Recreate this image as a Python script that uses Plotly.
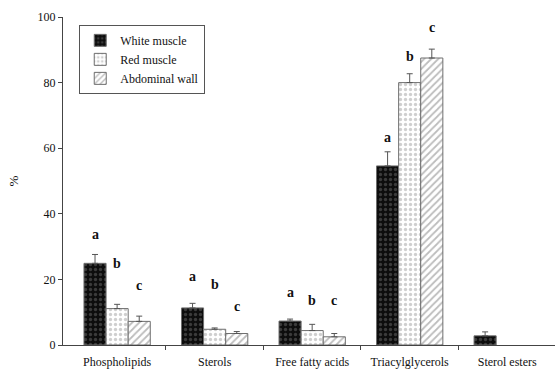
import plotly.graph_objects as go

# Lipid classes (x categories)
categories = ["Phospholipids", "Sterols", "Free fatty acids", "Triacylglycerols", "Sterol esters"]

# Mean percentage of total lipids per tissue
white_muscle = [24.9, 11.3, 7.3, 54.6, 2.8]
red_muscle = [11.1, 4.8, 4.4, 80.0, 0.0]
abdominal_wall = [7.2, 3.5, 2.5, 87.5, 0.0]

# Standard deviations (upper error bars only)
white_err = [2.7, 1.4, 0.6, 4.3, 1.2]
red_err = [1.3, 0.4, 1.9, 2.7, 0.0]
abdominal_err = [1.6, 0.6, 1.0, 2.7, 0.0]

# Significance letters and the heights at which they are printed
white_letters = ["a", "a", "a", "a", ""]
red_letters = ["b", "b", "b", "b", ""]
abdominal_letters = ["c", "c", "c", "c", ""]
white_letter_y = [33.8, 20.8, 16.0, 63.2, None]
red_letter_y = [25.0, 18.4, 13.7, 87.9, None]
abdominal_letter_y = [18.2, 11.6, 13.7, 96.9, None]

y_ticks = [0, 20, 40, 60, 80, 100]

FONT = "Liberation Serif, Times New Roman, serif"
x_pos = list(range(len(categories)))

series = [
    ("White muscle", white_muscle, white_err, "#0d0d0d", ".", "#6a6a6a", 5),
    ("Red muscle", red_muscle, red_err, "#ffffff", ".", "#a0a0a0", 5),
    ("Abdominal wall", abdominal_wall, abdominal_err, "#ffffff", "/", "#7a7a7a", 5),
]

fig = go.Figure()
for name, vals, errs, fill, shape, fg, size in series:
    # zero-height entries are left empty so no bar or error cap is drawn
    shown = [v if v > 0 else None for v in vals]
    err_plus = [e if v > 0 else 0 for v, e in zip(vals, errs)]
    fig.add_trace(go.Bar(
        name=name,
        x=x_pos,
        y=shown,
        marker=dict(
            color=fill,
            line=dict(color="#6e6e6e", width=1),
            pattern=dict(shape=shape, fgcolor=fg, bgcolor=fill, size=size, solidity=0.35),
        ),
        error_y=dict(
            type="data", symmetric=False, array=err_plus, arrayminus=[0] * len(vals),
            color="#555555", thickness=1, width=3,
        ),
    ))

# Letters above the bars
bar_offsets = [-0.225, 0.0, 0.225]
for off, letters, ys in zip(bar_offsets,
                            [white_letters, red_letters, abdominal_letters],
                            [white_letter_y, red_letter_y, abdominal_letter_y]):
    for i, (lab, yv) in enumerate(zip(letters, ys)):
        if lab and yv is not None:
            fig.add_annotation(x=i + off, y=yv, text="<b>%s</b>" % lab, showarrow=False,
                               font=dict(family=FONT, size=14, color="#111111"),
                               xanchor="center", yanchor="middle")

fig.update_layout(
    width=555, height=374,
    margin=dict(l=63, r=0, t=17, b=29),
    paper_bgcolor="#ffffff", plot_bgcolor="#ffffff",
    barmode="group", bargap=0.32, bargroupgap=0,
    font=dict(family=FONT, size=12, color="#111111"),
    showlegend=True,
    legend=dict(
        x=0.033, y=0.976, xanchor="left", yanchor="top",
        bgcolor="#ffffff", bordercolor="#555555", borderwidth=1,
        font=dict(family=FONT, size=12, color="#111111"),
        itemwidth=30, tracegroupgap=0,
    ),
)

fig.update_xaxes(
    range=[-0.555, 4.49],
    tickvals=x_pos, ticktext=categories, ticks="",
    minor=dict(tickvals=[0.5, 1.5, 2.5, 3.5], ticks="outside", ticklen=4,
               tickcolor="#444444", showgrid=False),
    showline=True, linecolor="#444444", linewidth=1,
    showgrid=False, zeroline=False,
    tickfont=dict(family=FONT, size=12, color="#111111"),
    ticklabelstandoff=6,
)
fig.update_yaxes(
    range=[0, 100], tickvals=y_ticks,
    ticks="outside", ticklen=4, tickcolor="#444444",
    showline=True, linecolor="#444444", linewidth=1,
    showgrid=False, zeroline=False,
    tickfont=dict(family=FONT, size=12, color="#111111"),
    title=dict(text="%", font=dict(family=FONT, size=13, color="#111111"), standoff=16),
)

fig.write_html("out.html")
